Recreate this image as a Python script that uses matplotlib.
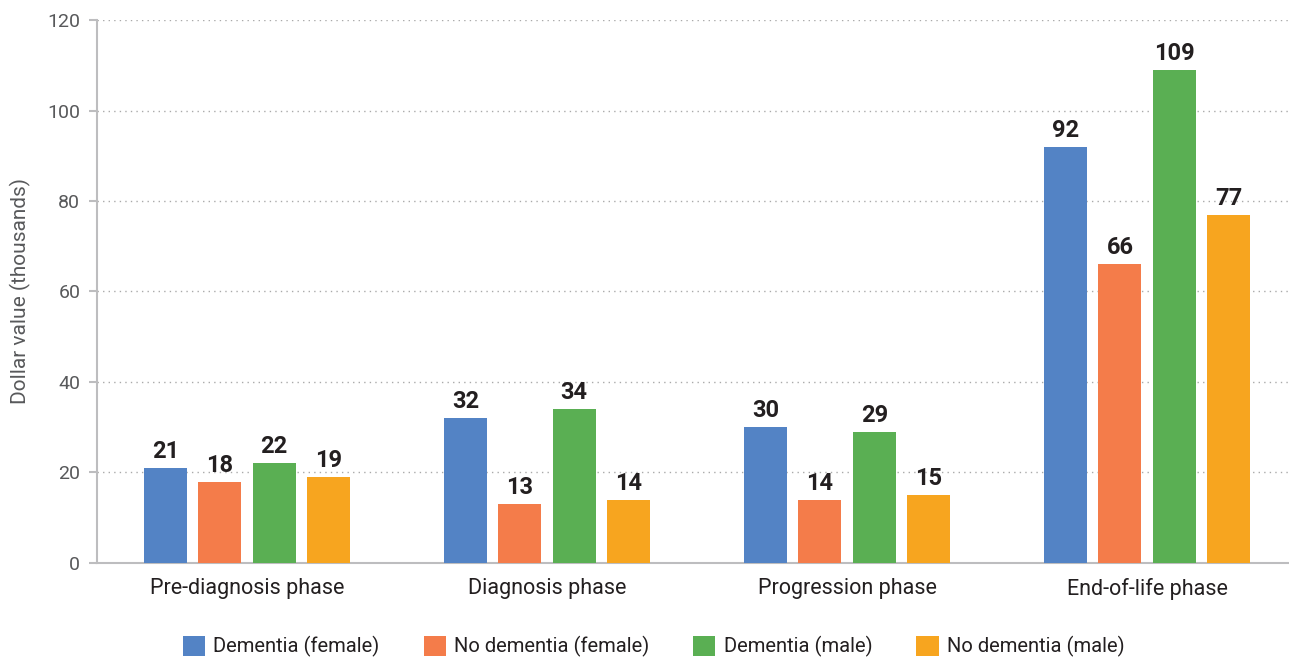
import numpy as np
import matplotlib.pyplot as plt
from matplotlib.patches import Patch

# --- Data -------------------------------------------------------------------
phases = ['Pre-diagnosis phase', 'Diagnosis phase', 'Progression phase', 'End-of-life phase']
series_names = ['Dementia (female)', 'No dementia (female)', 'Dementia (male)', 'No dementia (male)']
dementia_female = [21, 32, 30, 92]
no_dementia_female = [18, 13, 14, 66]
dementia_male = [22, 34, 29, 109]
no_dementia_male = [19, 14, 15, 77]
y_ticks = [0, 20, 40, 60, 80, 100, 120]

# --- Style ------------------------------------------------------------------
COLORS = ['#5383C5', '#F47C4A', '#5AAF53', '#F7A51F']
AXIS_GREY = '#BDBDBF'
TEXT_DARK = '#231F20'
TEXT_GREY = '#58595B'

plt.rcParams['font.family'] = ['Roboto', 'DejaVu Sans']

fig = plt.figure(figsize=(12.89, 6.58), dpi=100)
ax = fig.add_axes([0.0752, 0.1444, 0.9248, 0.8252])

x = np.arange(len(phases))
bar_w = 0.143
step = 0.181
series = [dementia_female, no_dementia_female, dementia_male, no_dementia_male]

for i, (vals, color) in enumerate(zip(series, COLORS)):
    offset = (i - 1.5) * step
    bars = ax.bar(x + offset, vals, width=bar_w, color=color, zorder=3)
    for b, v in zip(bars, vals):
        ax.text(b.get_x() + b.get_width() / 2, v + 1.1, f'{v}',
                ha='center', va='bottom', fontsize=17, fontweight='bold',
                color=TEXT_DARK)

ax.set_xlim(-0.5, 3.473)
ax.set_ylim(0, 120)
ax.set_yticks(y_ticks)
ax.set_xticks(x)
ax.set_xticklabels(phases, fontsize=15.5, color=TEXT_DARK)
ax.tick_params(axis='x', length=0, pad=11)
ax.tick_params(axis='y', length=6, width=1.5, color=AXIS_GREY,
               labelsize=14, labelcolor=TEXT_GREY, pad=6)

ax.yaxis.grid(True, linestyle=(0, (1, 3)), color='#AAAAAA', linewidth=1.0, zorder=0)
ax.set_axisbelow(True)

for side in ['top', 'right']:
    ax.spines[side].set_visible(False)
for side in ['left', 'bottom']:
    ax.spines[side].set_color(AXIS_GREY)
    ax.spines[side].set_linewidth(1.5)

ax.set_ylabel('Dollar value (thousands)', fontsize=15, color=TEXT_GREY, labelpad=12)

handles = [Patch(facecolor=c, label=n) for c, n in zip(COLORS, series_names)]
fig.legend(handles=handles, loc='center', bbox_to_anchor=(0.507, 0.017),
           ncol=4, frameon=False, fontsize=14.5, handlelength=1.1, handleheight=1.1,
           handletextpad=0.4, columnspacing=2.2, labelcolor=TEXT_DARK)

fig.savefig('out.png', dpi=100)
